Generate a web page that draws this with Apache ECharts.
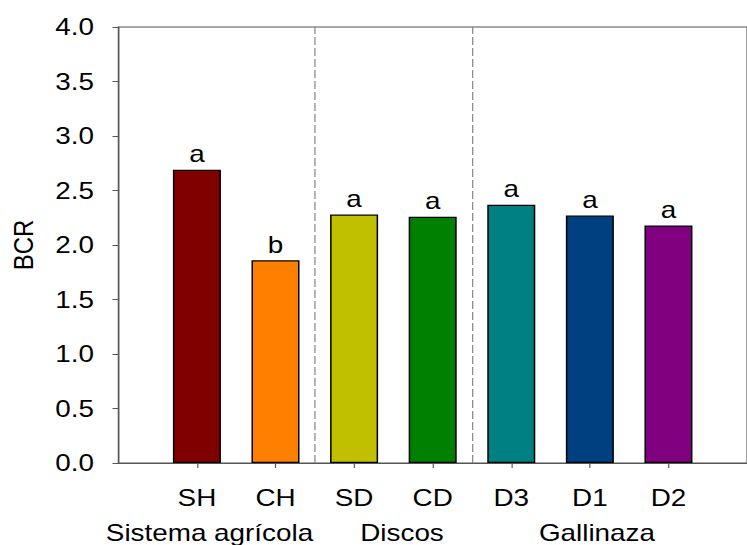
<!DOCTYPE html>
<html>
<head>
<meta charset="utf-8">
<script src="https://cdn.jsdelivr.net/npm/echarts@6/dist/echarts.min.js"></script>
<style>
  html, body { margin: 0; padding: 0; background: #fff; overflow: hidden; }
  /* the figure is drawn slightly narrow and widened, giving the broad lettering of the plot */
  #chart { width: 644px; height: 545px; transform: scaleX(1.16); transform-origin: 0 0; }
</style>
</head>
<body>
<div id="chart"></div>
<script>
// Treatments, their positions on the x scale, and BCR means
const categories = ['SH', 'CH', 'SD', 'CD', 'D3', 'D1', 'D2'];
const positions = [1, 2, 3, 4, 5, 6, 7];
const bcr = [2.69, 1.86, 2.28, 2.26, 2.37, 2.27, 2.18];
const letters = ['a', 'b', 'a', 'a', 'a', 'a', 'a'];
const barColors = ['#800000', '#FF8000', '#C0C000', '#008000', '#008080', '#004080', '#800080'];

// Factor groups written under the treatment names, and the dashed separators
const groups = ['Sistema agrícola', 'Discos', 'Gallinaza'];
const groupCenters = [1.16, 3.61, 6.09];
const dividers = [2.5, 4.5];

const FONT = '"Liberation Sans", Arial, sans-serif';
const AXIS = '#555555';

const chart = echarts.init(document.getElementById('chart'), null, { renderer: 'svg' });

chart.setOption({
  animation: false,
  grid: {
    left: 100, top: 27, width: 551.7, height: 436,
    show: true, borderColor: AXIS, borderWidth: 1, backgroundColor: 'transparent'
  },
  xAxis: [
    {
      type: 'value', min: 0, max: 8, position: 'bottom',
      splitLine: { show: false },
      axisLine: { show: true, lineStyle: { color: AXIS, width: 1 } },
      axisTick: { show: true, customValues: positions, length: 5, lineStyle: { color: AXIS } },
      axisLabel: {
        customValues: positions,
        formatter: v => categories[positions.indexOf(v)] || '',
        fontSize: 24, color: '#000', fontFamily: FONT, margin: 23
      }
    },
    {
      type: 'value', min: 0, max: 8, position: 'bottom',
      splitLine: { show: false },
      axisLine: { show: false },
      axisTick: { show: false },
      axisLabel: {
        customValues: groupCenters,
        formatter: v => groups[groupCenters.indexOf(v)] || '',
        fontSize: 24, color: '#000', fontFamily: FONT, margin: 58
      }
    }
  ],
  yAxis: {
    type: 'value', min: 0, max: 4, interval: 0.5,
    splitLine: { show: false },
    axisLine: { show: true, lineStyle: { color: AXIS, width: 1 } },
    axisTick: { show: true, length: 5, lineStyle: { color: AXIS } },
    axisLabel: {
      formatter: v => v.toFixed(1),
      fontSize: 24, color: '#000', fontFamily: FONT, margin: 21
    },
    name: 'BCR', nameLocation: 'middle', nameRotate: 90, nameGap: 70,
    nameTextStyle: { fontSize: 24, color: '#000', fontFamily: FONT }
  },
  series: [{
    type: 'bar',
    xAxisIndex: 0,
    barWidth: 41.4,
    data: positions.map((p, i) => ({ value: [p, bcr[i]], itemStyle: { color: barColors[i] } })),
    itemStyle: { borderColor: '#000', borderWidth: 1.3 },
    label: {
      show: true, position: 'top', distance: 4,
      formatter: p => letters[p.dataIndex],
      fontSize: 24, color: '#000', fontFamily: FONT
    },
    markLine: {
      silent: true, symbol: 'none',
      label: { show: false },
      lineStyle: { type: [8, 3], color: '#808080', width: 1 },
      data: dividers.map(x => ({ xAxis: x }))
    }
  }]
});
</script>
</body>
</html>
